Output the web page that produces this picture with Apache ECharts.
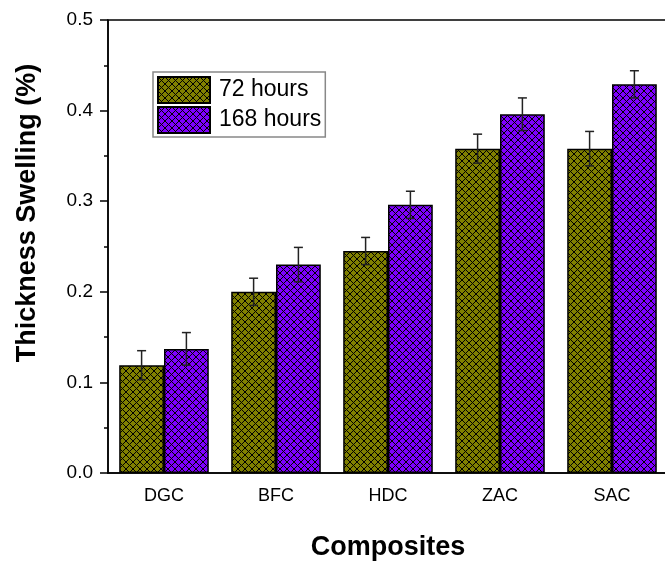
<!DOCTYPE html>
<html>
<head>
<meta charset="utf-8">
<script src="https://cdn.jsdelivr.net/npm/echarts@6/dist/echarts.min.js"></script>
<style>
  html, body { margin: 0; padding: 0; background: #fff; }
  #chart { width: 665px; height: 563px; }
</style>
</head>
<body>
<div id="chart"></div>
<script>
var categories = ['DGC', 'BFC', 'HDC', 'ZAC', 'SAC'];
var seriesNames = ['72 hours', '168 hours'];
var values72 = [0.119, 0.200, 0.245, 0.358, 0.358];
var errors72 = [0.016, 0.015, 0.015, 0.016, 0.019];
var values168 = [0.137, 0.230, 0.296, 0.396, 0.429];
var errors168 = [0.018, 0.019, 0.015, 0.018, 0.015];
var yTicks = ['0.0', '0.1', '0.2', '0.3', '0.4', '0.5'];

// crosshatch fill
function hatch(fill) {
    var s = 7;
    var c = document.createElement('canvas');
    c.width = s;
    c.height = s;
    var ctx = c.getContext('2d');
    ctx.fillStyle = fill;
    ctx.fillRect(0, 0, s, s);
    ctx.strokeStyle = '#000';
    ctx.lineWidth = 1;
    ctx.beginPath();
    ctx.moveTo(-1, -1); ctx.lineTo(s + 1, s + 1);
    ctx.moveTo(s + 1, -1); ctx.lineTo(-1, s + 1);
    ctx.stroke();
    return { image: c, repeat: 'repeat' };
}

var colors = [hatch('#808000'), hatch('#7f00ff')];
var barOffsets = [-22.4, 22.4];

function errorSeries(vals, errs, k) {
    var data = vals.map(function (v, i) { return [i, v, errs[i]]; });
    return {
        type: 'custom',
        xAxisIndex: 0,
        z: 10,
        silent: true,
        data: data,
        renderItem: function (params, api) {
            var i = api.value(0);
            var hi = api.coord([i, api.value(1) + api.value(2)]);
            var lo = api.coord([i, api.value(1) - api.value(2)]);
            var x = hi[0] + barOffsets[k];
            var w = 4.5;
            var st = { stroke: '#222', lineWidth: 1.5 };
            return {
                type: 'group',
                children: [
                    { type: 'line', shape: { x1: x, y1: hi[1], x2: x, y2: lo[1] }, style: st },
                    { type: 'line', shape: { x1: x - w, y1: hi[1], x2: x + w, y2: hi[1] }, style: st },
                    { type: 'line', shape: { x1: x - w, y1: lo[1], x2: x + w, y2: lo[1] }, style: st }
                ]
            };
        }
    };
}

var myChart = echarts.init(document.getElementById('chart'));
var option = {
    animation: false,
    textStyle: { fontFamily: 'Liberation Sans, Arial, sans-serif' },
    grid: {
        left: 108, top: 20, width: 560, height: 453,
        outerBoundsMode: 'none',
        containLabel: false,
        show: true, borderColor: '#000', borderWidth: 1.5, backgroundColor: 'transparent'
    },
    legend: {
        orient: 'vertical',
        left: 153, top: 72,
        icon: 'rect',
        itemWidth: 52, itemHeight: 26,
        itemGap: 2,
        padding: [4, 4, 3, 4],
        borderColor: '#888',
        borderWidth: 1.5,
        textStyle: { fontSize: 23, color: '#000', padding: [0, 0, 0, 4] },
        data: seriesNames
    },
    graphic: [{
        type: 'text',
        x: 28, y: 213,
        rotation: Math.PI / 2,
        style: {
            text: 'Thickness Swelling (%)',
            font: 'bold 27px Liberation Sans, Arial, sans-serif',
            fill: '#000',
            align: 'center',
            verticalAlign: 'middle'
        }
    }],
    xAxis: [{
        type: 'category',
        data: categories,
        name: 'Composites',
        nameLocation: 'middle',
        nameGap: 61,
        nameTextStyle: { fontSize: 27, fontWeight: 'bold', color: '#000', verticalAlign: 'top' },
        axisLine: { lineStyle: { color: '#000', width: 1.5 } },
        axisTick: { alignWithLabel: true, length: 9, lineStyle: { color: '#000', width: 1.5 } },
        axisLabel: { fontSize: 18, color: '#000', margin: 14 }
    }, {
        type: 'category',
        data: categories,
        position: 'bottom',
        axisLine: { show: false },
        axisTick: { length: 5, lineStyle: { color: '#000', width: 1.5 } },
        axisLabel: { show: false }
    }],
    yAxis: {
        type: 'value',
        min: 0, max: 0.5, interval: 0.1,
        axisLine: { show: true, lineStyle: { color: '#000', width: 1.5 } },
        axisTick: { show: true, length: 8, lineStyle: { color: '#000', width: 1.5 } },
        minorTick: { show: true, splitNumber: 2, length: 4, lineStyle: { color: '#000', width: 1.5 } },
        splitLine: { show: false },
        axisLabel: {
            fontSize: 19, color: '#000', margin: 15,
            formatter: function (v) { return yTicks[Math.round(v * 10)]; }
        }
    },
    series: [{
        name: seriesNames[0],
        type: 'bar',
        data: values72,
        barGap: '0%',
        barCategoryGap: '20%',
        itemStyle: { color: colors[0], borderColor: '#000', borderWidth: 1.5 }
    }, {
        name: seriesNames[1],
        type: 'bar',
        data: values168,
        barGap: '0%',
        barCategoryGap: '20%',
        itemStyle: { color: colors[1], borderColor: '#000', borderWidth: 1.5 }
    },
    errorSeries(values72, errors72, 0),
    errorSeries(values168, errors168, 1)]
};
myChart.setOption(option);
</script>
</body>
</html>
